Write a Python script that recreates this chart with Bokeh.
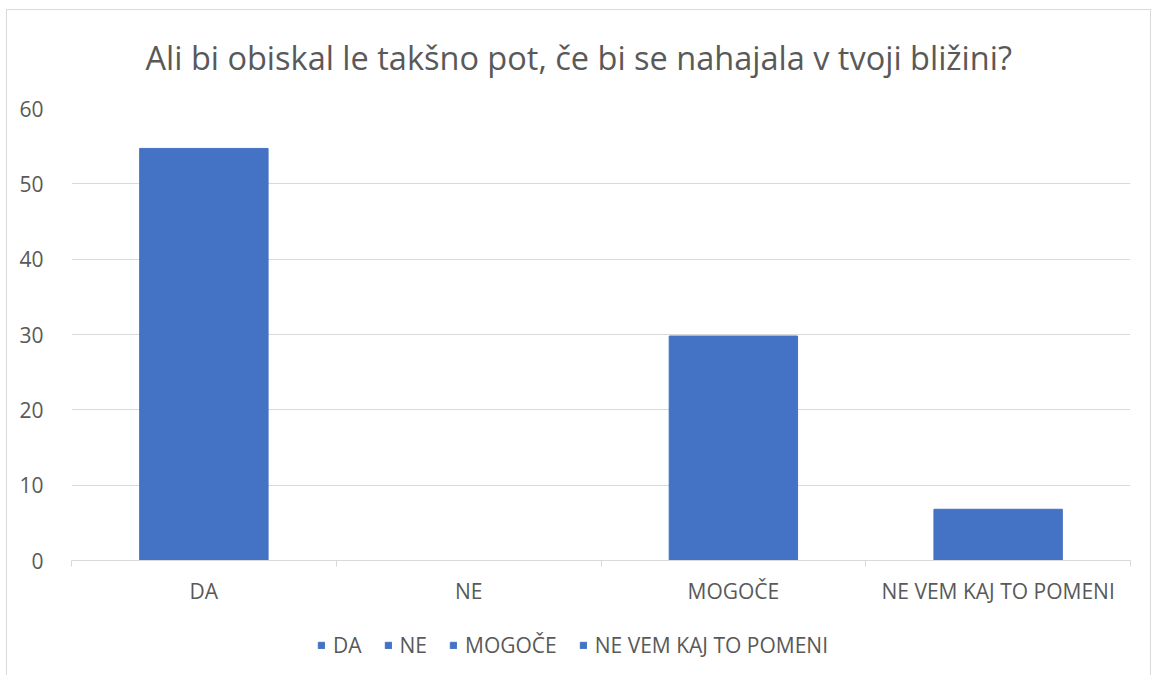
from bokeh.plotting import figure
from bokeh.models import FixedTicker, ColumnDataSource, Label
from bokeh.layouts import column
from bokeh.embed import file_html
from bokeh.resources import INLINE

TITLE = "Ali bi obiskal le takšno pot, če bi se nahajala v tvoji bližini?"
categories = ["DA", "NE", "MOGOČE", "NE VEM KAJ TO POMENI"]
values = [54.7, 0, 29.8, 6.8]
y_ticks = [0, 10, 20, 30, 40, 50, 60]

FONT = "Open Sans"
TXT = "#595959"
GRID = "#d9d9d9"
BLUE = "#4472c4"
W = 1143

xpos = [i + 0.5 for i in range(len(categories))]
src = ColumnDataSource(dict(x=xpos, top=values, cat=categories))

# title strip
p0 = figure(width=W, height=84, output_backend="svg", toolbar_location=None,
            x_axis_location=None, y_axis_location=None, min_border=0,
            x_range=(0, 1), y_range=(0, 1))
p0.outline_line_color = None
p0.grid.visible = False
p0.add_layout(Label(x=74, y=37, x_units="screen", y_units="screen", text=TITLE,
                    text_font=FONT, text_font_size="32.5px", text_color=TXT,
                    text_baseline="middle", text_align="left"))

# main chart
p = figure(frame_width=1059, frame_height=452, output_backend="svg", toolbar_location=None,
           x_range=(0, len(categories)), y_range=(0, 60),
           min_border_left=64, min_border_right=20, min_border_top=14, min_border_bottom=0)

p.vbar(x="x", top="top", width=0.485, source=src, color=BLUE)

p.outline_line_color = None
p.xgrid.grid_line_color = None
p.ygrid.grid_line_color = GRID
p.ygrid.grid_line_width = 1
p.ygrid.ticker = FixedTicker(ticks=y_ticks)

p.yaxis.ticker = FixedTicker(ticks=y_ticks)
p.yaxis.axis_line_color = None
p.yaxis.major_tick_line_color = None
p.yaxis.minor_tick_line_color = None
p.yaxis.major_label_text_font = FONT
p.yaxis.major_label_text_font_size = "21px"
p.yaxis.major_label_text_color = TXT
p.yaxis.major_label_standoff = 22

p.xaxis.ticker = FixedTicker(ticks=xpos, minor_ticks=list(range(len(categories) + 1)))
p.xaxis.major_label_overrides = {x: c for x, c in zip(xpos, categories)}
p.xaxis.axis_line_color = GRID
p.xaxis.axis_line_width = 1
p.xaxis.major_tick_line_color = None
p.xaxis.minor_tick_line_color = GRID
p.xaxis.minor_tick_out = 6
p.xaxis.minor_tick_in = 0
p.xaxis.major_label_text_font = FONT
p.xaxis.major_label_text_font_size = "21px"
p.xaxis.major_label_text_color = TXT
p.xaxis.major_label_standoff = 10

# legend strip
p2 = figure(width=W, height=76, output_backend="svg", toolbar_location=None,
            x_axis_location=None, y_axis_location=None, min_border=0,
            x_range=(0, len(categories)), y_range=(1000, 2000))
p2.outline_line_color = None
p2.grid.visible = False
p2.vbar(x="x", top="top", width=0.485, source=src, color=BLUE, legend_field="cat")
leg = p2.legend[0]
leg.orientation = "horizontal"
leg.location = (246, 24)
leg.border_line_color = None
leg.background_fill_alpha = 0
leg.label_text_font = FONT
leg.label_text_font_size = "21px"
leg.label_text_color = TXT
leg.glyph_width = 8
leg.glyph_height = 8
leg.label_standoff = 8
leg.spacing = 22
leg.margin = 0
leg.padding = 0

layout = column(p0, p, p2, spacing=0,
                styles={"border": "1px solid #d9d9d9", "margin-left": "6px", "margin-top": "9px"})

open("out.html", "w").write(file_html(layout, INLINE))
